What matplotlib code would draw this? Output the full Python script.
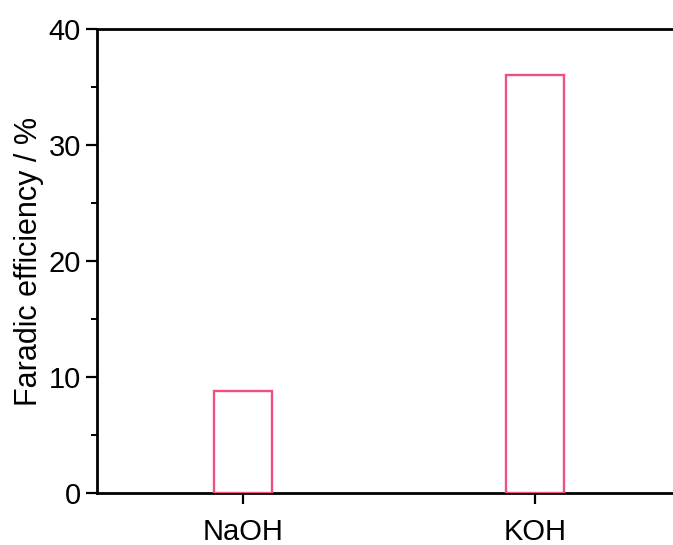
import matplotlib
matplotlib.use('Agg')
import matplotlib.pyplot as plt
from matplotlib.ticker import MultipleLocator

# electrolyte categories and their faradaic efficiency (%)
electrolytes = ['NaOH', 'KOH']
efficiency = [8.8, 36.0]

plt.rcParams['font.family'] = ['Liberation Sans', 'DejaVu Sans']

fig = plt.figure(figsize=(6.73, 5.45), dpi=100)
# axes runs off the right side of the picture, like the original
ax = fig.add_axes([97 / 673, 1 - 493 / 545, 584 / 673, 464 / 545])

pos = range(len(electrolytes))
ax.bar(pos, efficiency, width=0.2, facecolor='white',
       edgecolor='#F0507D', linewidth=1.7, zorder=3)

ax.set_xlim(-0.5, 1.5)
ax.set_ylim(0, 40)
ax.set_xticks(list(pos))
ax.set_xticklabels(electrolytes)
ax.yaxis.set_major_locator(MultipleLocator(10))
ax.yaxis.set_minor_locator(MultipleLocator(5))
ax.set_ylabel('Faradic efficiency / %', fontsize=22, labelpad=3)

ax.spines['right'].set_visible(False)
for s in ['left', 'top', 'bottom']:
    ax.spines[s].set_linewidth(2)

ax.tick_params(axis='both', which='major', direction='out', length=8,
               width=1.6, labelsize=21)
ax.tick_params(axis='y', which='minor', direction='out', length=4, width=1.4)
ax.tick_params(axis='x', pad=10)

fig.savefig('out.png', dpi=100)
